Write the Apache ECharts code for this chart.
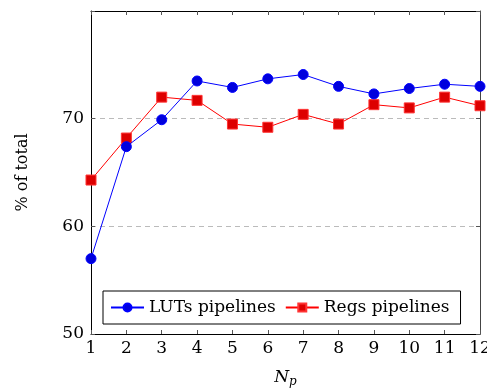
<!DOCTYPE html>
<html>
<head>
<meta charset="utf-8">
<script src="https://cdn.jsdelivr.net/npm/echarts@6/dist/echarts.min.js"></script>
<style>
html,body{margin:0;padding:0;background:#fff;}
#chart{width:487px;height:392px;}
</style>
</head>
<body>
<div id="chart"></div>
<script>
// N_p values on the x axis
var np = [1, 2, 3, 4, 5, 6, 7, 8, 9, 10, 11, 12];
// % of total
var luts = [57.0, 67.4, 69.9, 73.5, 72.9, 73.7, 74.1, 73.0, 72.3, 72.8, 73.2, 73.0];
var regs = [64.3, 68.2, 72.0, 71.7, 69.5, 69.2, 70.4, 69.5, 71.3, 71.0, 72.0, 71.2];
var yTicks = [50, 60, 70];

var font = 'DejaVu Serif';

function pairs(xs, ys){
    return xs.map(function(x, i){ return [x, ys[i]]; });
}

var chart = echarts.init(document.getElementById('chart'));
chart.setOption({
    animation: false,
    textStyle: {fontFamily: font},
    grid: {left: 91, right: 7, top: 11, bottom: 58, outerBoundsMode: 'none'},
    legend: {
        left: 103, top: 291,
        orient: 'horizontal',
        borderColor: '#000', borderWidth: 1,
        padding: [8, 11, 8, 7],
        itemGap: 9,
        itemWidth: 33, itemHeight: 10,
        textStyle: {fontFamily: font, fontSize: 17, color: '#000'},
        data: ['LUTs pipelines', 'Regs pipelines']
    },
    xAxis: [{
        type: 'value', min: 1, max: 12, interval: 1,
        name: 'N{s|p}', nameLocation: 'middle', nameGap: 34,
        nameTextStyle: {fontFamily: font, fontSize: 17, fontStyle: 'italic', color: '#000',
            rich: {s: {fontFamily: font, fontSize: 12, fontStyle: 'italic', verticalAlign: 'bottom', padding: [8, 0, 0, 0]}}},
        axisLine: {lineStyle: {color: '#000', width: 1}},
        axisTick: {inside: true, length: 4, lineStyle: {color: '#555'}},
        axisLabel: {margin: 6, fontSize: 17, color: '#000', fontFamily: font},
        splitLine: {show: false}
    }, {
        type: 'value', min: 1, max: 12, interval: 1, position: 'top',
        axisLine: {lineStyle: {color: '#000', width: 1}},
        axisTick: {inside: true, length: 4, lineStyle: {color: '#555'}},
        axisLabel: {show: false},
        splitLine: {show: false}
    }],
    yAxis: [{
        type: 'value', min: 50, max: 80, interval: 10,
        name: '% of total', nameLocation: 'middle', nameGap: 60,
        nameTextStyle: {fontFamily: font, fontSize: 16, color: '#000'},
        axisLine: {show: true, lineStyle: {color: '#000', width: 1}},
        axisTick: {show: true, inside: true, length: 4, lineStyle: {color: '#555'}},
        axisLabel: {margin: 7, fontSize: 17, color: '#000', fontFamily: font,
            formatter: function(v){ return yTicks.indexOf(v) >= 0 ? v : ''; }},
        splitLine: {show: true, lineStyle: {color: '#bbb', type: [5, 4], width: 1}}
    }, {
        type: 'value', min: 50, max: 80, interval: 10, position: 'right',
        axisLine: {show: true, lineStyle: {color: '#444', width: 1}},
        axisTick: {show: true, inside: true, length: 4, lineStyle: {color: '#555'}},
        axisLabel: {show: false},
        splitLine: {show: false}
    }],
    series: [{
        name: 'LUTs pipelines', type: 'line',
        data: pairs(np, luts),
        symbol: 'circle', symbolSize: 10,
        lineStyle: {color: '#0000ff', width: 1},
        itemStyle: {color: '#0000dd', borderColor: '#0000ff', borderWidth: 1},
        z: 3
    }, {
        name: 'Regs pipelines', type: 'line',
        data: pairs(np, regs),
        symbol: 'rect', symbolSize: 10,
        lineStyle: {color: '#ff0000', width: 1},
        itemStyle: {color: '#dd0000', borderColor: '#ff3333', borderWidth: 1},
        z: 2
    }]
});
</script>
</body>
</html>
